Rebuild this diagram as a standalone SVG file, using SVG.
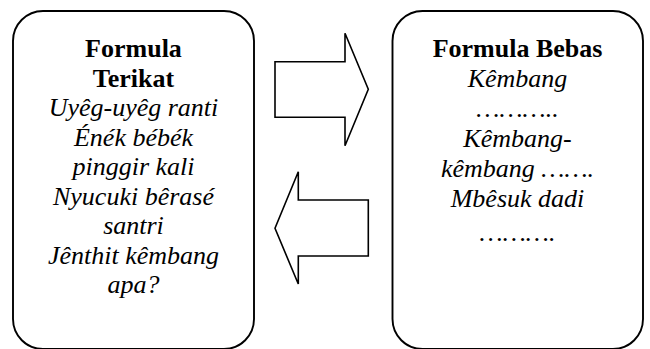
<svg xmlns="http://www.w3.org/2000/svg" width="650" height="349" viewBox="0 0 650 349">
<style>
.box{fill:#fff;stroke:#000;stroke-width:1.9}
.arr{fill:#fff;stroke:#000;stroke-width:1.6;stroke-linejoin:miter}
.t{font-family:'Liberation Serif','Times New Roman','DejaVu Serif',serif;font-size:26px;text-anchor:middle;fill:#000}
.b{font-weight:bold}
.i{font-style:italic}
</style>
<rect width="650" height="349" fill="#fff"/>
<g id="formula-terikat">
<rect class="box" x="13" y="11" width="241" height="338" rx="30" ry="30"/>
<g class="t">
<text class="b" x="133.5" y="57">Formula</text>
<text class="b" x="133.5" y="86.5">Terikat</text>
<text class="i" x="133.5" y="116">Uyêg-uyêg ranti</text>
<text class="i" x="133.5" y="145.5">Énék bébék</text>
<text class="i" x="133.5" y="175">pinggir kali</text>
<text class="i" x="133.5" y="204.5">Nyucuki bêrasé</text>
<text class="i" x="133.5" y="234">santri</text>
<text class="i" x="133.5" y="263.5">Jênthit kêmbang</text>
<text class="i" x="133.5" y="293">apa?</text>
</g>
</g>
<g id="formula-bebas">
<rect class="box" x="392.5" y="11" width="250.5" height="338" rx="30" ry="30"/>
<g class="t">
<text class="b" x="517.5" y="57">Formula Bebas</text>
<text class="i" x="517.5" y="86.5">Kêmbang</text>
<text class="i" x="517.5" y="117">………..</text>
<text class="i" x="517.5" y="147">Kêmbang-</text>
<text class="i" x="517.5" y="177">kêmbang …….</text>
<text class="i" x="517.5" y="207">Mbêsuk dadi</text>
<text class="i" x="517.5" y="241">……….</text>
</g>
</g>
<g id="connectors">
<polygon class="arr" points="275,61.7 345,61.7 345,33.3 368.3,89.3 345,145.7 345,117.3 275,117.3"/>
<polygon class="arr" points="368.3,200 298.3,200 298.3,171.7 275,228.3 298.3,284 298.3,256 368.3,256"/>
</g>
</svg>
